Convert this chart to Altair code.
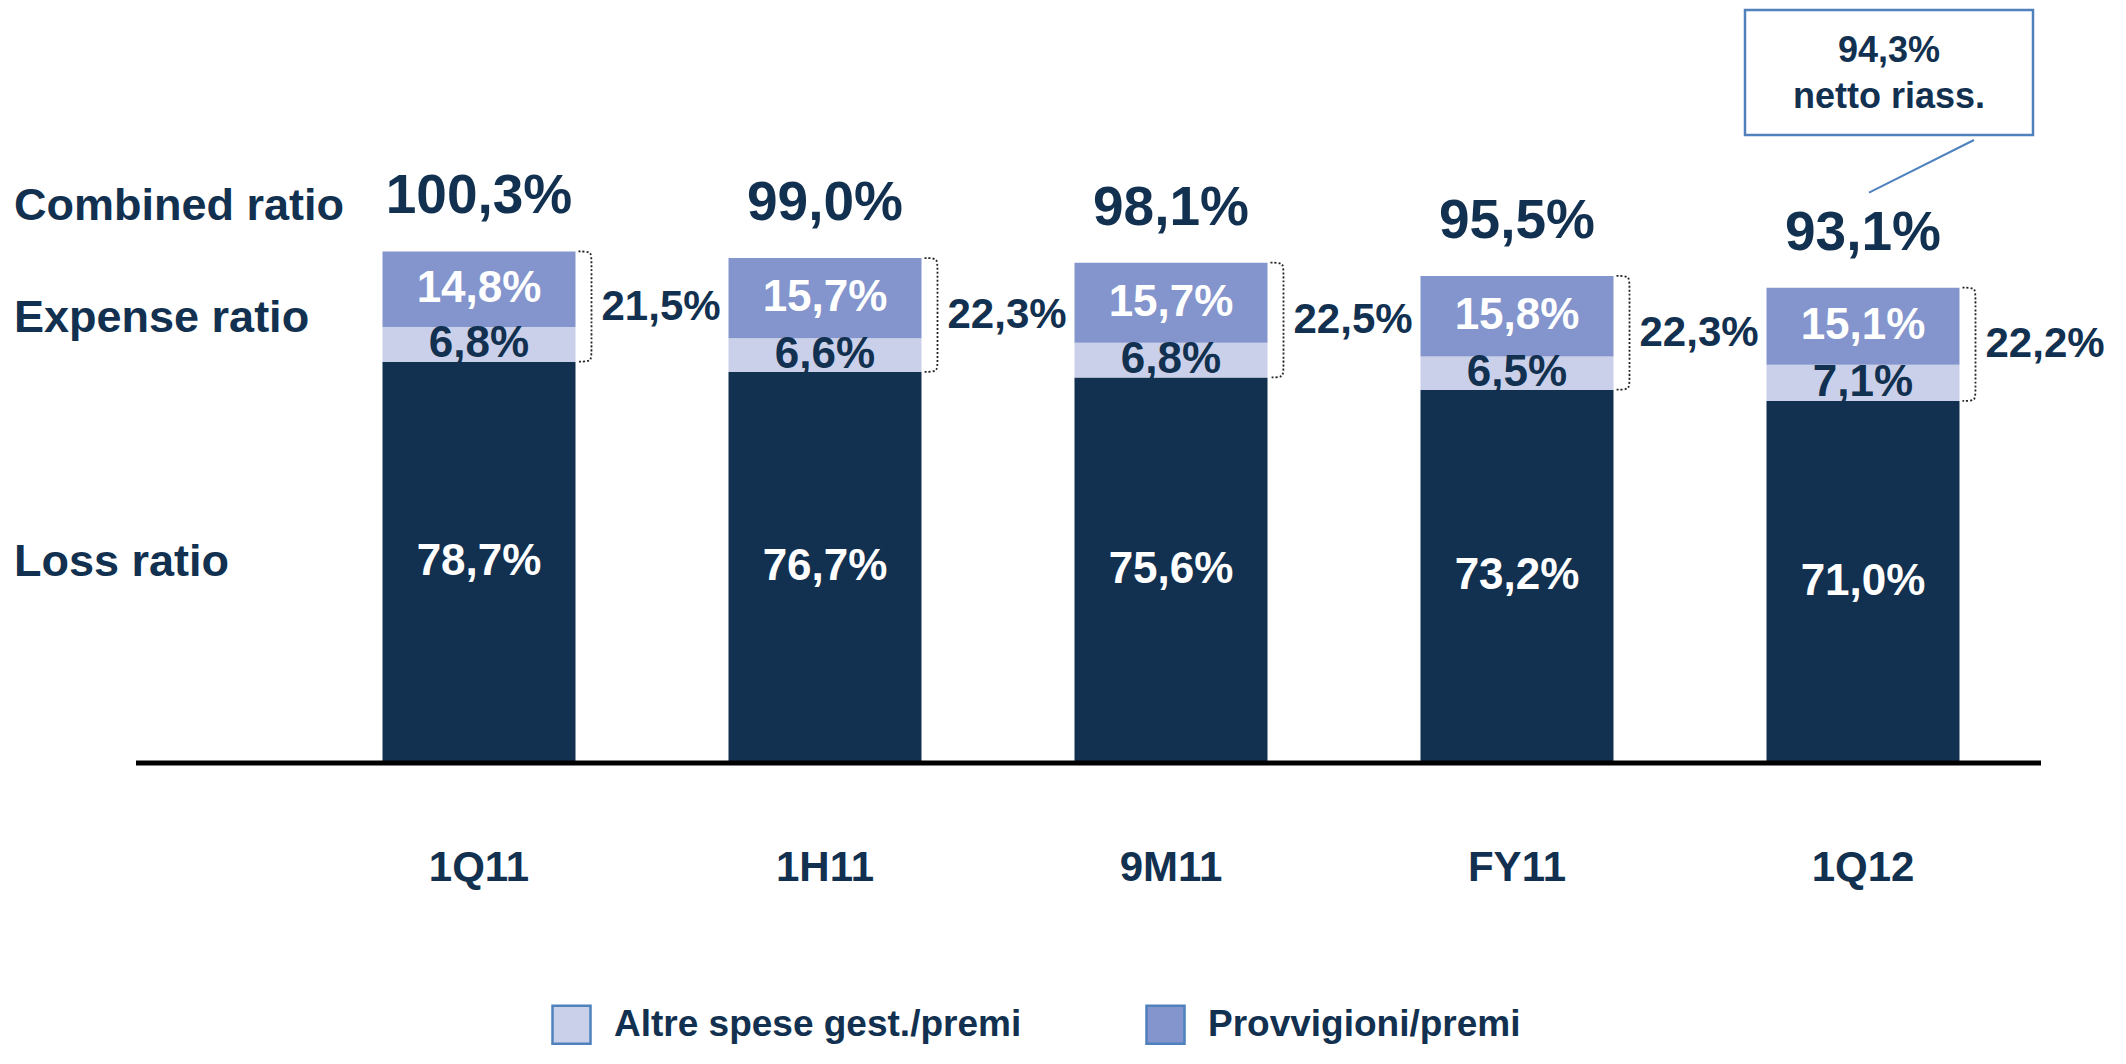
import altair as alt
import pandas as pd

# ---------------- data ----------------
periods = ["1Q11", "1H11", "9M11", "FY11", "1Q12"]
loss_ratio = [78.7, 76.7, 75.6, 73.2, 71.0]
altre_spese = [6.8, 6.6, 6.8, 6.5, 7.1]
provvigioni = [14.8, 15.7, 15.7, 15.8, 15.1]
combined_ratio = [100.3, 99.0, 98.1, 95.5, 93.1]
expense_ratio = [21.5, 22.3, 22.5, 22.3, 22.2]
series_names = ["Loss ratio", "Altre spese gest./premi", "Provvigioni/premi"]
series_colors = ["#12304F", "#CBD0EA", "#8395CC"]
row_labels = ["Combined ratio", "Expense ratio", "Loss ratio"]
callout_lines = ["94,3%", "netto riass."]

# ---------------- style / layout ----------------
NAVY = "#12304F"
CALLOUT_BLUE = "#4F81BD"
FONT = "Liberation Sans, Arial, Helvetica, sans-serif"
W, H = 2110, 755
PAD_BOTTOM = 285
K = 5.1            # px per percentage point
STEP = 346.0       # px between category centres
X0 = 471.0         # px of first category centre
HALF = 96.5 / STEP
R = 8.0 / K

x_scale = alt.Scale(domain=[-X0 / STEP, (W - X0) / STEP], nice=False, zero=False)
y_scale = alt.Scale(domain=[0, H / K], nice=False, zero=False)


def fmt(field):
    return f"replace(format(datum.{field}, '.1f'), '.', ',') + '%'"


def X(f):
    return alt.X(f, type="quantitative", scale=x_scale, axis=None)


def Y(f):
    return alt.Y(f, type="quantitative", scale=y_scale, axis=None, stack=None)


period_df = pd.DataFrame({
    "period": periods,
    "idx": list(range(len(periods))),
    "loss": loss_ratio,
    "altre": altre_spese,
    "provv": provvigioni,
    "combined": combined_ratio,
    "expense": expense_ratio,
})

seg_rows = []
for i, p in enumerate(periods):
    for o, (name, vals) in enumerate(zip(series_names, [loss_ratio, altre_spese, provvigioni])):
        seg_rows.append({"period": p, "idx": i, "series": name, "order": o, "value": vals[i]})
seg_df = pd.DataFrame(seg_rows)

bracket_df = period_df.merge(pd.DataFrame({"pts": list(range(6))}), how="cross")

# ---------------- stacked bars ----------------
seg_base = alt.Chart(seg_df).transform_stack(
    stack="value", groupby=["period"],
    sort=[alt.SortField("order", order="ascending")], as_=["y0", "y1"]
).transform_calculate(
    xl=f"datum.idx - {HALF}",
    xr=f"datum.idx + {HALF}",
    ymid="(datum.y0 + datum.y1) / 2",
    lab=fmt("value"),
)

bars = seg_base.mark_bar().encode(
    x=X("xl"),
    x2="xr:Q",
    y=Y("y0"),
    y2="y1:Q",
    color=alt.Color(
        "series:N",
        scale=alt.Scale(domain=series_names, range=series_colors),
        legend=alt.Legend(
            values=series_names[1:], title=None, orient="none",
            legendX=543, legendY=996, direction="horizontal",
            symbolType="square", symbolSize=1444, symbolStrokeColor=CALLOUT_BLUE,
            symbolStrokeWidth=2.5, symbolOpacity=1,
            labelFont=FONT, labelFontSize=37, labelFontWeight="bold",
            labelColor=NAVY, labelOffset=22, columnPadding=119, labelLimit=1000,
        ),
    ),
)

seg_text_white = seg_base.transform_filter(
    alt.datum.series != series_names[1]
).mark_text(font=FONT, fontSize=44, fontWeight="bold", color="white", baseline="middle").encode(
    x=X("idx"), y=Y("ymid"), text="lab:N"
)
seg_text_navy = seg_base.transform_filter(
    alt.datum.series == series_names[1]
).mark_text(font=FONT, fontSize=44, fontWeight="bold", color=NAVY, baseline="middle").encode(
    x=X("idx"), y=Y("ymid"), text="lab:N"
)

# ---------------- per-period annotations ----------------
per_base = alt.Chart(period_df).transform_calculate(
    top="datum.loss + datum.altre + datum.provv",
    exmid="datum.loss + (datum.altre + datum.provv) / 2",
    clab=fmt("combined"),
    elab=fmt("expense"),
    xr=f"datum.idx + {HALF}",
    zero="0",
)

totals = per_base.mark_text(
    font=FONT, fontSize=55, fontWeight="bold", color=NAVY, baseline="alphabetic", dy=-38
).encode(x=X("idx"), y=Y("top"), text="clab:N")

brackets = alt.Chart(bracket_df).transform_calculate(
    top="datum.loss + datum.altre + datum.provv",
    xr=f"datum.idx + {HALF}",
).transform_calculate(
    bx=f"datum.xr + ((datum.pts == 0 || datum.pts == 5) ? {3 / STEP} : {16 / STEP})",
    by=f"datum.pts <= 1 ? datum.top : (datum.pts == 2 ? datum.top - {R} : "
       f"(datum.pts == 3 ? datum.loss + {R} : datum.loss))",
).mark_line(
    interpolate="basis", color="#222222", strokeWidth=1.8, strokeDash=[2, 2]
).encode(x=X("bx"), y=Y("by"), detail="period:N", order="pts:Q")

bracket_labels = per_base.mark_text(
    font=FONT, fontSize=42, fontWeight="bold", color=NAVY, align="left", baseline="middle", dx=26
).encode(x=X("xr"), y=Y("exmid"), text="elab:N")

x_labels = per_base.mark_text(
    font=FONT, fontSize=42, fontWeight="bold", color=NAVY, baseline="middle", dy=105
).encode(x=X("idx"), y=Y("zero"), text="period:N")

baseline = alt.Chart(pd.DataFrame({"zero": [0.0]})).mark_rule(color="black", strokeWidth=5).encode(
    x=alt.value(128), x2=alt.value(2033), y=Y("zero")
)

# ---------------- row labels (anchored on first bar) ----------------
rl_df = pd.DataFrame({
    "label": row_labels,
    "anchor": [combined_ratio[0],
               loss_ratio[0] + (altre_spese[0] + provvigioni[0]) / 2,
               loss_ratio[0] / 2],
})
rows = []
for label, dy in zip(row_labels, [-45, 11, 0]):
    rows.append(
        alt.Chart(rl_df).transform_filter(alt.datum.label == label).mark_text(
            font=FONT, fontSize=45, fontWeight="bold", color=NAVY,
            align="left", baseline="middle", dy=dy
        ).encode(x=alt.value(6), y=Y("anchor"), text="label:N")
    )

# ---------------- callout ----------------
one = pd.DataFrame({"k": [0]})
box = alt.Chart(one).mark_rect(fill="white", stroke=CALLOUT_BLUE, strokeWidth=2.5).encode(
    x=alt.value(1737), x2=alt.value(2025), y=alt.value(2), y2=alt.value(127)
)
callout_texts = []
for txt, yy in zip(callout_lines, [43, 89]):
    callout_texts.append(
        alt.Chart(one).mark_text(
            font=FONT, fontSize=36, fontWeight="bold", color=NAVY, align="center", baseline="middle"
        ).encode(x=alt.value(1881), y=alt.value(yy), text=alt.value(txt))
    )
connector = per_base.transform_filter(alt.datum.period == periods[-1]).mark_rule(
    color=CALLOUT_BLUE, strokeWidth=2, yOffset=-95, xOffset=6
).encode(x=X("idx"), y=Y("top"), x2=alt.value(1966), y2=alt.value(132))

chart = alt.layer(
    bars, seg_text_white, seg_text_navy, brackets, bracket_labels, totals,
    baseline, x_labels, *rows, box, *callout_texts, connector
).properties(
    width=W, height=H,
    background="white",
    autosize=alt.AutoSizeParams(type="none"),
    padding={"left": 0, "top": 0, "right": 0, "bottom": PAD_BOTTOM},
).configure_view(stroke=None, strokeWidth=0)

chart.save("out.html", embed_options={"renderer": "svg", "actions": False})
